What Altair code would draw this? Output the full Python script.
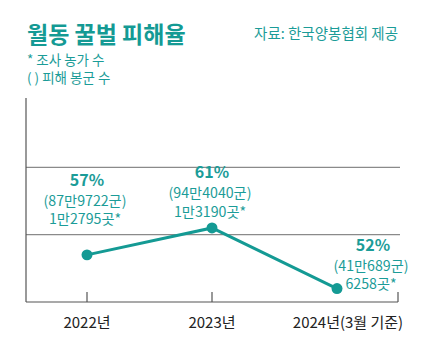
import altair as alt
import pandas as pd

years = [2022, 2023, 2024]
rates = [57, 61, 52]
rate_labels = ["57%", "61%", "52%"]
hive_labels = ["(87만9722군)", "(94만4040군)", "(41만689군)"]
farm_labels = ["1만2795곳*", "1만3190곳*", "6258곳*"]
x_labels = ["2022년", "2023년", "2024년(3월 기준)"]
grid_values = [60, 70]
title_text = "월동 꿀벌 피해율"
note_texts = ["* 조사 농가 수", "( ) 피해 봉군 수"]
source_text = "자료: 한국양봉협회 제공"

TEAL = "#149a94"
TEXT_TEAL = "#1b9c98"
FONT = "Noto Sans CJK KR"
W, H = 372, 202
X_DOMAIN = [2021.512, 2024.488]
Y_DOMAIN = [50, 80]

df = pd.DataFrame({"year": years, "rate": rates, "pct": rate_labels,
                   "detail": [h + "\n" + f for h, f in zip(hive_labels, farm_labels)],
                   "xl": x_labels})

xs = alt.Scale(domain=X_DOMAIN, nice=False, zero=False)
ys = alt.Scale(domain=Y_DOMAIN, nice=False, zero=False)
X = alt.X("year:Q", scale=xs, axis=None)
Y = alt.Y("rate:Q", scale=ys, axis=None)

base = alt.Chart(df)
one = alt.Chart(pd.DataFrame({"k": [0]}))

grid = alt.Chart(pd.DataFrame({"g": grid_values})).mark_rule(
    color="#8a8a8a", strokeWidth=1.2
).encode(y=alt.Y("g:Q", scale=ys, axis=None), x=alt.value(0), x2=alt.value(W + 2))

yaxis = one.mark_rule(color="#555555", strokeWidth=1.2).encode(
    x=alt.value(0), y=alt.value(-2), y2=alt.value(H))
xaxis = one.mark_rule(color="#555555", strokeWidth=1.2).encode(
    x=alt.value(0), x2=alt.value(W), y=alt.value(H))

tick_df = pd.DataFrame({"t": [2022, 2023, X_DOMAIN[1]]})
ticks = alt.Chart(tick_df).mark_rule(color="#555555", strokeWidth=1.2).encode(
    x=alt.X("t:Q", scale=xs, axis=None), y=alt.value(H - 10), y2=alt.value(H))

line = base.mark_line(color=TEAL, strokeWidth=3).encode(x=X, y=Y)
pts = base.mark_circle(color=TEAL, size=120, opacity=1).encode(x=X, y=Y)

# annotation offsets (layout, per point): dx, dy of first line
offsets = [(0, -74), (0, -55), (36, -43)]
ann_layers = []
for i, (dx, dy) in enumerate(offsets):
    sub = base.transform_filter(alt.datum.year == years[i])
    ann_layers.append(sub.mark_text(font=FONT, fontSize=16, fontWeight="bold", color=TEXT_TEAL,
                                    dx=dx, dy=dy, baseline="middle").encode(x=X, y=Y, text="pct:N"))
    ann_layers.append(sub.mark_text(font=FONT, fontSize=14.2, color=TEXT_TEAL,
                                    lineBreak="\n", lineHeight=18.6,
                                    dx=dx - 2, dy=dy + 25, baseline="alphabetic").encode(
        x=X, y=Y, text="detail:N"))

xl_dx = [0, 0, 11]
xl_layers = []
for i, d in enumerate(xl_dx):
    sub = base.transform_filter(alt.datum.year == years[i])
    xl_layers.append(sub.mark_text(font=FONT, fontSize=15, color="#222222",
                                   dx=d, baseline="middle").encode(
        x=X, y=alt.value(H + 21), text="xl:N"))

title = one.mark_text(font=FONT, fontSize=23, fontWeight="bold", color=TEAL, align="left",
                      baseline="middle").encode(x=alt.value(1), y=alt.value(-64),
                                                text=alt.value(title_text))
notes = one.mark_text(font=FONT, fontSize=13.5, color=TEXT_TEAL, align="left",
                      lineBreak="\n", lineHeight=17.5,
                      baseline="alphabetic").encode(x=alt.value(1), y=alt.value(-35),
                                                    text=alt.value("\n".join(note_texts)))
source = one.mark_text(font=FONT, fontSize=14.5, color=TEXT_TEAL, align="right",
                       baseline="middle").encode(x=alt.value(W), y=alt.value(-65),
                                                 text=alt.value(source_text))

chart = alt.layer(grid, yaxis, xaxis, ticks, line, pts, *ann_layers, *xl_layers,
                  title, notes, source).properties(
    width=W, height=H,
    autosize=alt.AutoSizeParams(type="none"),
    padding={"left": 18, "top": 92, "right": 20, "bottom": 40},
    background="white",
).configure_view(stroke=None)

chart.save("out.html", embed_options={"renderer": "svg", "actions": False})
